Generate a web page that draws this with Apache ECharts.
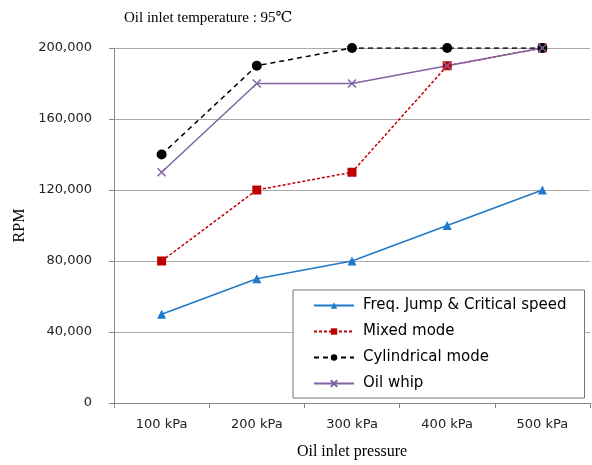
<!DOCTYPE html>
<html lang="en">
<head>
    <meta charset="UTF-8">
    <title>Oil inlet pressure vs RPM</title>
    <script src="https://cdn.jsdelivr.net/npm/echarts@6/dist/echarts.min.js"></script>
    <style>
        body { margin: 0; background: #fff; }
        #main { width: 592px; height: 465px; }
    </style>
</head>
<body>
    <div id="main"></div>

    <script type="text/javascript">
        // 数据
        var pressures = ['100 kPa', '200 kPa', '300 kPa', '400 kPa', '500 kPa'];
        var freqJump = [50000, 70000, 80000, 100000, 120000];
        var mixedMode = [80000, 120000, 130000, 190000, 200000];
        var cylindricalMode = [140000, 190000, 200000, 200000, 200000];
        var oilWhip = [130000, 180000, 180000, 190000, 200000];

        var serif = '"Liberation Serif", "DejaVu Serif", serif';
        var sans = '"DejaVu Sans", "Noto Sans", sans-serif';

        var myChart = echarts.init(document.getElementById('main'));

        var option = {
            animation: false,
            backgroundColor: '#fff',
            title: {
                text: 'Oil inlet temperature : 95\u2103',
                left: 119,
                top: 6,
                textStyle: { fontFamily: serif, fontSize: 15, fontWeight: 'normal', color: '#000' }
            },
            grid: { left: 114, right: 2, top: 48, bottom: 60 },
            legend: {
                orient: 'vertical',
                left: 293,
                top: 290,
                padding: [8, 18, 7, 20],
                itemGap: 11,
                itemWidth: 40,
                itemHeight: 8,
                borderColor: '#777',
                borderWidth: 1,
                backgroundColor: '#fff',
                textStyle: { fontFamily: sans, fontSize: 15, color: '#000', padding: [0, 0, 0, 4] },
                data: ['Freq. Jump & Critical speed', 'Mixed mode', 'Cylindrical mode', 'Oil whip']
            },
            xAxis: {
                type: 'category',
                data: pressures,
                boundaryGap: true,
                name: 'Oil inlet pressure',
                nameLocation: 'middle',
                nameGap: 41,
                nameTextStyle: { fontFamily: serif, fontSize: 16, color: '#000' },
                axisLine: { lineStyle: { color: '#888' } },
                axisTick: { show: true, alignWithLabel: false, length: 5, lineStyle: { color: '#888' } },
                axisLabel: { fontFamily: sans, fontSize: 13, color: '#222', margin: 15 }
            },
            yAxis: {
                type: 'value',
                min: 0,
                max: 200000,
                interval: 40000,
                name: 'RPM',
                nameLocation: 'middle',
                nameGap: 73,
                nameRotate: 90,
                nameTextStyle: { fontFamily: serif, fontSize: 16, color: '#000' },
                axisLine: { show: true, lineStyle: { color: '#888' } },
                axisTick: { show: true, length: 5, lineStyle: { color: '#888' } },
                splitLine: { lineStyle: { color: '#aaa' } },
                axisLabel: {
                    fontFamily: sans, fontSize: 13, color: '#222', margin: 22,
                    formatter: function (v) { return v.toLocaleString('en-US'); }
                }
            },
            series: [
                {
                    name: 'Freq. Jump & Critical speed',
                    type: 'line',
                    data: freqJump,
                    symbol: 'triangle',
                    symbolSize: 9,
                    color: '#1F78C8',
                    lineStyle: { width: 1.5, color: '#1F78C8' }
                },
                {
                    name: 'Mixed mode',
                    type: 'line',
                    data: mixedMode,
                    symbol: 'rect',
                    symbolSize: 9,
                    color: '#C00000',
                    lineStyle: { width: 1.5, color: '#C00000', type: [3, 2] }
                },
                {
                    name: 'Cylindrical mode',
                    type: 'line',
                    data: cylindricalMode,
                    symbol: 'circle',
                    symbolSize: 10,
                    color: '#000',
                    lineStyle: { width: 1.5, color: '#000', type: [5, 4] }
                },
                {
                    name: 'Oil whip',
                    type: 'line',
                    data: oilWhip,
                    symbol: 'path://M0,0 L10,10 M10,0 L0,10',
                    symbolSize: 8,
                    color: '#8064A2',
                    itemStyle: { color: 'none', borderColor: '#8064A2', borderWidth: 1.5 },
                    lineStyle: { width: 1.5, color: '#8064A2' }
                }
            ]
        };

        myChart.setOption(option);
    </script>
</body>
</html>
